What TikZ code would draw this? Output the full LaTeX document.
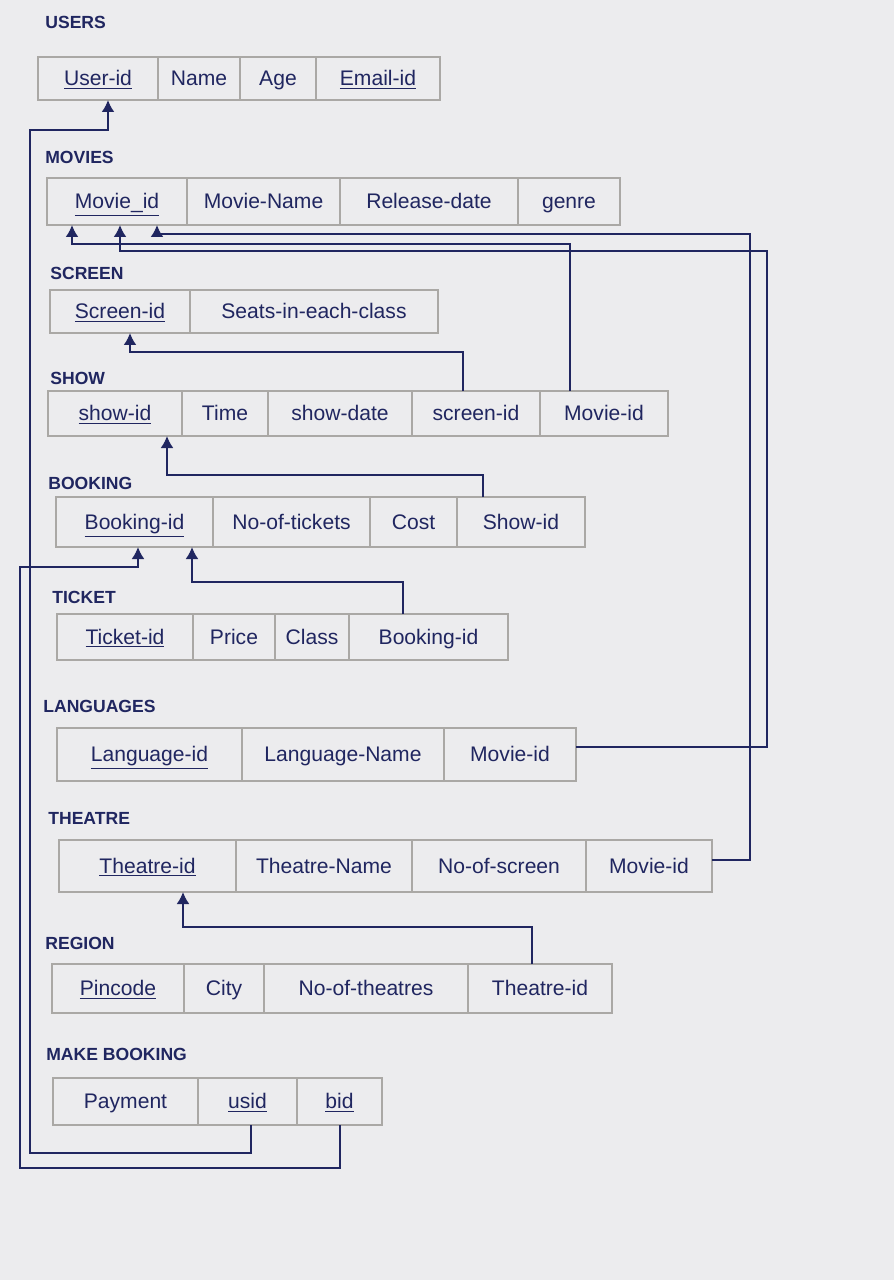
\documentclass[tikz,border=0pt]{standalone}
\usepackage{fontspec}
\setmainfont{Liberation Sans}
\usetikzlibrary{arrows.meta}
\definecolor{ink}{RGB}{32,38,96}
\definecolor{gridc}{RGB}{170,168,165}
\definecolor{paper}{RGB}{236,236,238}
\newcommand\mycell[6]{\node[cell, minimum width={(#3-#2)*0.02cm}, minimum height={(#5-#4)*0.02cm}] (#1) at ({(#2+#3)/2},{(#4+#5)/2}) {#6};}
\begin{document}
\begin{tikzpicture}[x=0.02cm, y=-0.02cm,
  cell/.style={draw=gridc, line width=0.6pt, inner sep=0pt, outer sep=0pt, text height=9pt, text depth=1pt, font=\fontsize{12}{14}\selectfont, text=ink},
  tabtitle/.style={anchor=west, inner sep=0pt, font=\bfseries\fontsize{10}{12}\selectfont, text=ink},
  fk/.style={draw=ink, line width=1.1pt, -{Latex[length=2.4mm,width=2.6mm]}}
]
\fill[paper] (0,0) rectangle (894,1280);
\useasboundingbox (0,0) rectangle (894,1280);

% USERS
\node[tabtitle] (t-users) at (45,22) {USERS};
\mycell{users-1}{38}{158}{57}{100}{\underline{User-id}}
\mycell{users-2}{158}{240}{57}{100}{Name}
\mycell{users-3}{240}{316}{57}{100}{Age}
\mycell{users-4}{316}{440}{57}{100}{\underline{Email-id}}

% MOVIES
\node[tabtitle] (t-movies) at (45,157) {MOVIES};
\mycell{movies-1}{47}{187}{178}{225}{\underline{Movie\_id}}
\mycell{movies-2}{187}{340}{178}{225}{Movie-Name}
\mycell{movies-3}{340}{518}{178}{225}{Release-date}
\mycell{movies-4}{518}{620}{178}{225}{genre}

% SCREEN
\node[tabtitle] (t-screen) at (50,273) {SCREEN};
\mycell{screen-1}{50}{190}{290}{333}{\underline{Screen-id}}
\mycell{screen-2}{190}{438}{290}{333}{Seats-in-each-class}

% SHOW
\node[tabtitle] (t-show) at (50,378) {SHOW};
\mycell{show-1}{48}{182}{391}{436}{\underline{show-id}}
\mycell{show-2}{182}{268}{391}{436}{Time}
\mycell{show-3}{268}{412}{391}{436}{show-date}
\mycell{show-4}{412}{540}{391}{436}{screen-id}
\mycell{show-5}{540}{668}{391}{436}{Movie-id}

% BOOKING
\node[tabtitle] (t-booking) at (48,483) {BOOKING};
\mycell{booking-1}{56}{213}{497}{547}{\underline{Booking-id}}
\mycell{booking-2}{213}{370}{497}{547}{No-of-tickets}
\mycell{booking-3}{370}{457}{497}{547}{Cost}
\mycell{booking-4}{457}{585}{497}{547}{Show-id}

% TICKET
\node[tabtitle] (t-ticket) at (52,597) {TICKET};
\mycell{ticket-1}{57}{193}{614}{660}{\underline{Ticket-id}}
\mycell{ticket-2}{193}{275}{614}{660}{Price}
\mycell{ticket-3}{275}{349}{614}{660}{Class}
\mycell{ticket-4}{349}{508}{614}{660}{Booking-id}

% LANGUAGES
\node[tabtitle] (t-lang) at (43,706) {LANGUAGES};
\mycell{lang-1}{57}{242}{728}{781}{\underline{Language-id}}
\mycell{lang-2}{242}{444}{728}{781}{Language-Name}
\mycell{lang-3}{444}{576}{728}{781}{Movie-id}

% THEATRE
\node[tabtitle] (t-theatre) at (48,818) {THEATRE};
\mycell{theatre-1}{59}{236}{840}{892}{\underline{Theatre-id}}
\mycell{theatre-2}{236}{412}{840}{892}{Theatre-Name}
\mycell{theatre-3}{412}{586}{840}{892}{No-of-screen}
\mycell{theatre-4}{586}{712}{840}{892}{Movie-id}

% REGION
\node[tabtitle] (t-region) at (45,943) {REGION};
\mycell{region-1}{52}{184}{964}{1013}{\underline{Pincode}}
\mycell{region-2}{184}{264}{964}{1013}{City}
\mycell{region-3}{264}{468}{964}{1013}{No-of-theatres}
\mycell{region-4}{468}{612}{964}{1013}{Theatre-id}

% MAKE BOOKING
\node[tabtitle] (t-make) at (46,1054) {MAKE BOOKING};
\mycell{make-1}{53}{198}{1078}{1125}{Payment}
\mycell{make-2}{198}{297}{1078}{1125}{\underline{usid}}
\mycell{make-3}{297}{382}{1078}{1125}{\underline{bid}}

% connectors
\draw[fk] (251,0 |- make-2.south) |- (30,1153) |- (108,130) -- (108,0 |- users-1.south);
\draw[fk] (340,0 |- make-3.south) |- (20,1168) |- (138,567) -- (138,0 |- booking-1.south);
\draw[fk] (403,0 |- ticket-4.north) |- (192,582) -- (192,0 |- booking-1.south);
\draw[fk] (483,0 |- booking-4.north) |- (167,475) -- (167,0 |- show-1.south);
\draw[fk] (463,0 |- show-4.north) |- (130,352) -- (130,0 |- screen-1.south);
\draw[fk] (570,0 |- show-5.north) |- (72,244) -- (72,0 |- movies-1.south);
\draw[fk] (lang-3.east |- 0,747) -| (767,251) -| (120,0 |- movies-1.south);
\draw[fk] (theatre-4.east |- 0,860) -| (750,234) -| (157,0 |- movies-1.south);
\draw[fk] (532,0 |- region-4.north) |- (183,927) -- (183,0 |- theatre-1.south);
\end{tikzpicture}
\end{document}
